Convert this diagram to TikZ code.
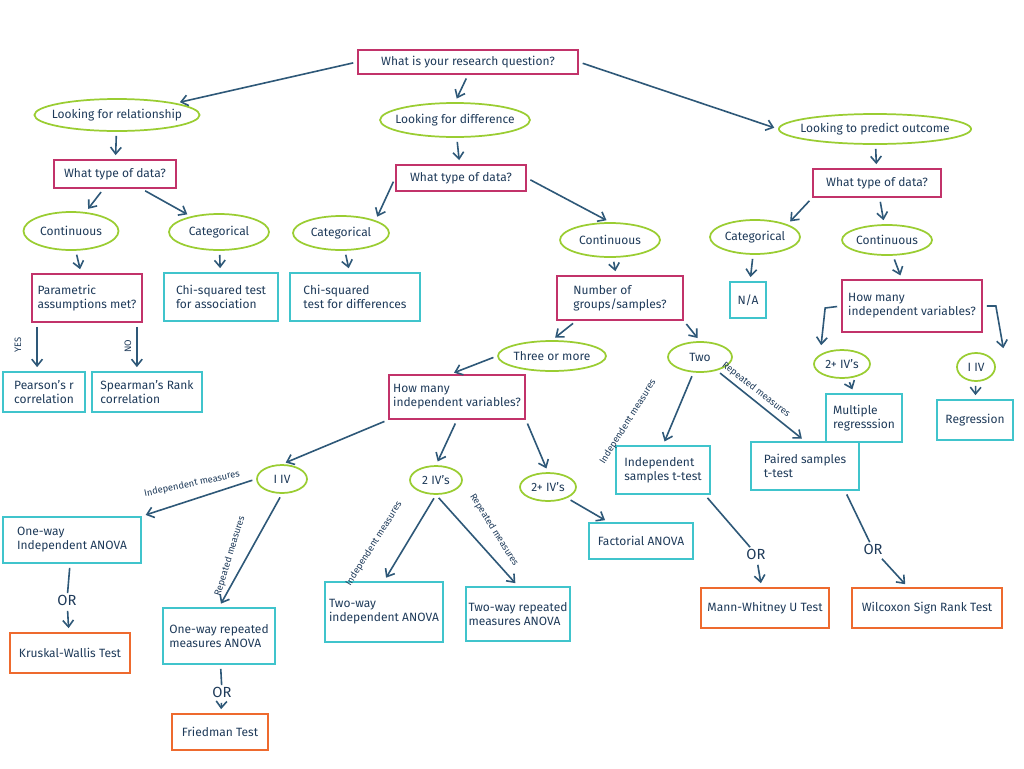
\documentclass[tikz,border=0pt]{standalone}
\usepackage{fontspec}
\setmainfont{Fira Sans}
\usetikzlibrary{shapes.geometric,arrows.meta}
\definecolor{pk}{HTML}{C2336A}
\definecolor{cy}{HTML}{40C4CC}
\definecolor{gr}{HTML}{9ACD32}
\definecolor{og}{HTML}{EE6A2E}
\definecolor{ar}{HTML}{2E5878}
\definecolor{tx}{HTML}{1F3B5A}
\begin{document}
\begin{tikzpicture}[x=0.75pt,y=-0.75pt,
  every node/.style={text=tx,font=\fontsize{9}{10.5}\selectfont,inner sep=1pt,align=center},
  sz/.style 2 args={minimum width=#1*0.75pt,minimum height=#2*0.75pt},
  pb/.style={draw=pk,line width=1.3pt,rectangle},
  cb/.style={draw=cy,line width=1.3pt,rectangle},
  ob/.style={draw=og,line width=1.3pt,rectangle},
  ge/.style={draw=gr,line width=1.3pt,ellipse,inner xsep=-5pt,inner ysep=0pt},
  a/.style={draw=ar,line width=1.2pt,-{Straight Barb[length=5pt,width=8pt]},shorten >=3pt,shorten <=3pt},
  lb/.style={font=\fontsize{7}{8}\selectfont,text=tx},
  orl/.style={font=\fontsize{11}{12}\selectfont,text=tx}]
\useasboundingbox (0,0) rectangle (1024,768);
\fill[white] (0,0) rectangle (1024,768);
% nodes
\node[pb,sz={220}{24}] (q) at (468,62) {What is your research question?};
\node[ge,sz={165}{32}] (rel) at (117,115) {Looking for relationship};
\node[ge,sz={145}{34}] (diff) at (455,120) {Looking for difference};
\node[ge,sz={175}{30}] (pred) at (875,129) {Looking to predict outcome};
\node[pb,sz={122}{28}] (td1) at (115,174) {What type of data?};
\node[pb,sz={130}{26}] (td2) at (461,178) {What type of data?};
\node[pb,sz={128}{28}] (td3) at (877,183) {What type of data?};
\node[ge,sz={95}{38}] (cont1) at (71,231) {Continuous};
\node[ge,sz={100}{36}] (cat1) at (219,232) {Categorical};
\node[ge,sz={96}{34}] (cat2) at (341,233) {Categorical};
\node[ge,sz={100}{34}] (cont2) at (610,240) {Continuous};
\node[ge,sz={90}{34}] (cat3) at (755,237) {Categorical};
\node[ge,sz={90}{30}] (cont3) at (887,240) {Continuous};
\node[pb,sz={110}{48},align=left] (param) at (87,298) {Parametric\\assumptions met?};
\node[cb,sz={114}{48},align=left] (chi1) at (221,297) {Chi-squared test\\for association};
\node[cb,sz={130}{48},align=left] (chi2) at (355,297) {Chi-squared\\test for differences};
\node[pb,sz={126}{44},align=left] (num) at (620,298) {Number of\\groups/samples?};
\node[cb,sz={36}{36}] (na) at (748,300) {N/A};
\node[pb,sz={140}{52},align=left] (hm3) at (912,306) {How many\\independent variables?};
\node[cb,sz={82}{40},align=left] (pear) at (44,392) {Pearson's r\\correlation};
\node[cb,sz={110}{40},align=left] (spear) at (147,392) {Spearman's Rank\\correlation};
\node[ge,sz={108}{30}] (three) at (552,356) {Three or more};
\node[ge,sz={64}{30}] (two) at (700,357) {Two};
\node[ge,sz={56}{28}] (ivs3) at (842,364) {2+ IV's};
\node[ge,sz={38}{28}] (iv1r) at (976,367) {I IV};
\node[pb,sz={136}{44},align=left] (hm2) at (457,397) {How many\\independent variables?};
\node[cb,sz={76}{48},align=left] (mreg) at (864,418) {Multiple\\regresssion};
\node[cb,sz={76}{40}] (regr) at (975,420) {Regression};
\node[cb,sz={94}{48},align=left] (indt) at (663,470) {Independent\\samples t-test};
\node[cb,sz={108}{48},align=left] (pairt) at (805,466) {Paired samples\\t-test};
\node[ge,sz={50}{28}] (iv1) at (282,479) {I IV};
\node[ge,sz={52}{28}] (iv2) at (436,480) {2 IV's};
\node[ge,sz={56}{28}] (ivp) at (548,487) {2+ IV's};
\node[cb,sz={138}{46},align=left] (oneway) at (72,540) {One-way\\Independent ANOVA};
\node[cb,sz={104}{36}] (fact) at (641,541) {Factorial ANOVA};
\node[cb,sz={118}{60},align=left] (twoway) at (384,612) {Two-way\\independent ANOVA};
\node[cb,sz={104}{54},align=left] (tworep) at (518,614) {Two-way repeated\\measures ANOVA};
\node[cb,sz={112}{56},align=left] (onerep) at (219,636) {One-way repeated\\measures ANOVA};
\node[ob,sz={120}{40}] (kw) at (70,653) {Kruskal-Wallis Test};
\node[ob,sz={128}{40}] (mw) at (765,608) {Mann-Whitney U Test};
\node[ob,sz={150}{40}] (wil) at (927,608) {Wilcoxon Sign Rank Test};
\node[ob,sz={96}{36}] (fried) at (220,732) {Friedman Test};
\node[orl] (or1) at (67,600) {OR};
\node[orl] (or2) at (222,692) {OR};
\node[orl] (or3) at (756,554) {OR};
\node[orl] (or4) at (873,549) {OR};
% arrows
\draw[a] (q.west) -- (rel.north east);
\draw[a] (q.south) -- (diff.north);
\draw[a] (q.east) -- (pred.west);
\draw[a] (rel) -- (td1);
\draw[a] (diff) -- (td2);
\draw[a] (pred) -- (td3);
\draw[a] (td1) -- (cont1);
\draw[a] (td1) -- (cat1);
\draw[a] (td2.west) -- (cat2.north east);
\draw[a] (td2.east) -- (cont2.north);
\draw[a] (td3.south west) -- (cat3.north east);
\draw[a] (td3) -- (cont3);
\draw[a] (cont1) -- (param);
\draw[a] (cat1) -- (chi1);
\draw[a] (cat2) -- (chi2);
\draw[a] (cont2) -- (num);
\draw[a] (cat3) -- (na);
\draw[a] (cont3) -- (hm3);
\draw[a] (param.south west) ++(6,0) coordinate (p1) (p1) -- (p1 |- pear.north);
\node[lb,rotate=90] at (18,345) {YES};
\draw[a] (param.south east) ++(-6,0) coordinate (p2) (p2) -- (p2 |- spear.north);
\node[lb,rotate=90] at (128,346) {NO};
\draw[a] (num.south west) ++(20,0) coordinate (n1) (n1) -- (three.north);
\draw[a] (num.south east) -- (two.north);
\draw[a] (hm3.west) -- ++(-16,2) -- ([xshift=-16]ivs3.north);
\draw[a] (hm3.east) -- ++(13,0) -- ([xshift=21]iv1r.north);
\draw[a] (ivs3) -- (mreg);
\draw[a] (iv1r) -- (regr);
\draw[a] (three.west) -- ([xshift=-5]hm2.north);
\draw[a] (two) -- (indt.north);
\draw[a] (two) -- (pairt.north);
\node[lb,rotate=58] at (628,422) {Independent measures};
\node[lb,rotate=-38] at (756,390) {Repeated measures};
\draw[a] (hm2.south west) -- (iv1.north);
\draw[a] (hm2.south) -- (iv2.north);
\draw[a] (hm2.south east) -- (ivp.north);
\draw[a] (iv1.west) -- (oneway.north east);
\node[lb,rotate=12] at (192,484) {Independent measures};
\draw[a] (iv1.south) -- (onerep.north);
\node[lb,rotate=73] at (230,556) {Repeated measures};
\draw[a] (iv2.south) -- (twoway.north);
\node[lb,rotate=58] at (374,544) {Independent measures};
\draw[a] (iv2.south) -- (tworep.north);
\node[lb,rotate=-58] at (494,530) {Repeated measures};
\draw[a] (ivp) -- (fact);
\draw[ar,line width=1.2pt,shorten <=3pt] (oneway) -- (or1);
\draw[a] (or1) -- (kw);
\draw[ar,line width=1.2pt,shorten <=3pt] (onerep) -- (or2);
\draw[a] (or2) -- (fried);
\draw[ar,line width=1.2pt,shorten <=3pt] (indt.south east) ++(-6,0) -- (or3);
\draw[a] (or3) -- (mw);
\draw[ar,line width=1.2pt,shorten <=3pt] (pairt.south) ++(40,0) -- (or4);
\draw[a] (or4) -- (wil);
\end{tikzpicture}
\end{document}
